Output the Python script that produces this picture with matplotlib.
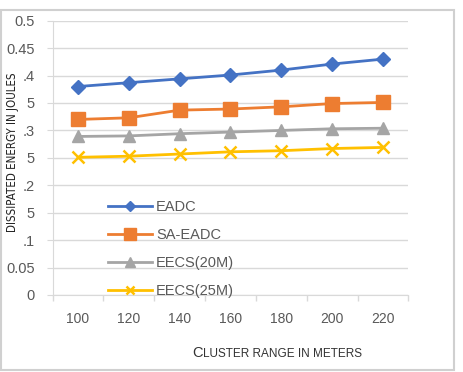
import numpy as np
import matplotlib
matplotlib.use("Agg")
import matplotlib.pyplot as plt
from matplotlib.patches import Rectangle
from matplotlib.offsetbox import TextArea, HPacker, AnchoredOffsetbox

# data
ranges = [100, 120, 140, 160, 180, 200, 220]
eadc = [0.380, 0.387, 0.394, 0.401, 0.410, 0.421, 0.430]
sa_eadc = [0.320, 0.323, 0.337, 0.339, 0.343, 0.349, 0.351]
eecs_20 = [0.289, 0.290, 0.294, 0.297, 0.300, 0.303, 0.304]
eecs_25 = [0.251, 0.253, 0.257, 0.261, 0.263, 0.267, 0.269]
ytick_vals = [0, 0.05, 0.1, 0.15, 0.2, 0.25, 0.3, 0.35, 0.4, 0.45, 0.5]
ytick_text = ["0", "0.05", ".1", "5", ".2", "5", ".3", "5", ".4", "0.45", "0.5"]

grey_txt = "#595959"
grid_c = "#D9D9D9"
sans = ["Liberation Sans", "DejaVu Sans"]

fig = plt.figure(figsize=(4.63, 3.72), dpi=100)
W, H = 463, 372
# outer chart frame
fig.patches.append(Rectangle((1 / W, 1 - 370 / H), 453 / W, 360 / H,
                             transform=fig.transFigure, fill=False,
                             edgecolor="#D0D0D0", lw=1.5))

ax = fig.add_axes([52.6 / W, 1 - 295 / H, 355.8 / W, 274.3 / H])
x = np.arange(len(ranges))

ax.plot(x, eadc, color="#4472C4", lw=2, marker="D", ms=7, label="EADC")
ax.plot(x, sa_eadc, color="#ED7D31", lw=2, marker="s", ms=10, label="SA-EADC")
ax.plot(x, eecs_20, color="#A5A5A5", lw=2, marker="^", ms=9, label="EECS(20M)")
ax.plot(x, eecs_25, color="#FFC000", lw=2, marker="x", ms=8, mew=1.8, label="EECS(25M)")

ax.set_xlim(-0.5, len(ranges) - 0.5)
ax.set_ylim(0, 0.5)
ax.set_xticks(x)
ax.set_xticklabels([str(r) for r in ranges], fontsize=10, color=grey_txt, family=sans)
ax.set_xticks(np.arange(-0.5, len(ranges), 1), minor=True)
ax.set_yticks(ytick_vals)
ax.set_yticklabels(ytick_text, fontsize=10.5, color=grey_txt, family=sans)
ax.tick_params(axis="x", which="major", length=0, pad=12)
ax.tick_params(axis="x", which="minor", length=4, color=grid_c, width=1)
ax.tick_params(axis="y", length=4, color=grid_c, pad=9)
ax.yaxis.grid(True, color=grid_c, lw=1)
ax.set_axisbelow(True)
for s in ["top", "right"]:
    ax.spines[s].set_visible(False)
ax.spines["left"].set_color(grid_c)
ax.spines["bottom"].set_color(grid_c)

leg = ax.legend(loc="upper left", bbox_to_anchor=(0.156, 0.345), frameon=False,
                prop=dict(size=10.5, family=sans), handlelength=3.0,
                handletextpad=0.3, labelspacing=0.95, borderpad=0,
                borderaxespad=0, markerscale=0.8)
for t in leg.get_texts():
    t.set_color(grey_txt)

fig.text(12.5 / W, 1 - 152 / H, "DISSIPATED ENERGY IN JOULES", rotation=90,
         ha="center", va="center", fontsize=8.3, color="#222222",
         family="DejaVu Sans", fontstretch="condensed")

# x label in small caps
p1 = TextArea("C", textprops=dict(fontsize=10.5, color="#333333", family=sans))
p2 = TextArea("LUSTER RANGE IN METERS", textprops=dict(fontsize=8.5, color="#333333", family=sans))
box = HPacker(children=[p1, p2], align="baseline", pad=0, sep=0)
anc = AnchoredOffsetbox(loc="center", child=box, frameon=False,
                        bbox_to_anchor=(277 / W, 1 - 353 / H),
                        bbox_transform=fig.transFigure, borderpad=0, pad=0)
fig.add_artist(anc)

fig.savefig("out.png", dpi=100)
